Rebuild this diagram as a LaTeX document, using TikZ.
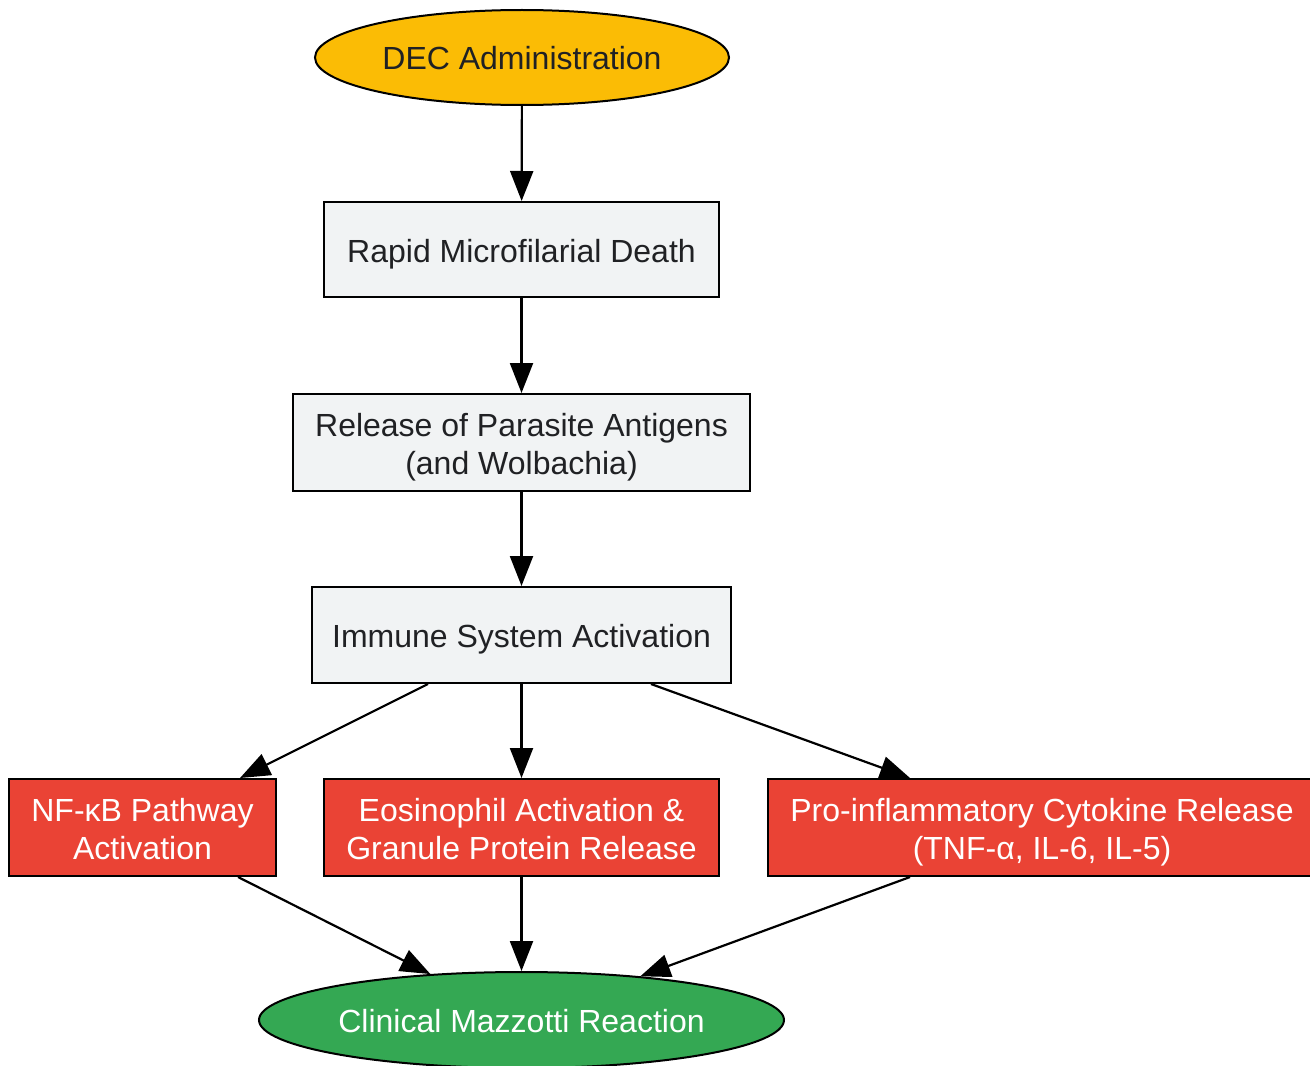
\documentclass[tikz,border=0pt]{standalone}
\usepackage{fontspec}
\setmainfont{Liberation Sans}
\usetikzlibrary{shapes.geometric,arrows.meta,calc}
\definecolor{cyel}{HTML}{FBBC05}
\definecolor{cgray}{HTML}{F1F3F4}
\definecolor{cred}{HTML}{EA4335}
\definecolor{cgreen}{HTML}{34A853}
\definecolor{ctext}{HTML}{202124}
\begin{document}
\begin{tikzpicture}[x=0.5pt,y=-0.5pt,
  base/.style={draw=black,line width=1pt,inner sep=0pt,align=center,font=\fontsize{16}{19}\selectfont,text height=12.5pt,text depth=0pt},
  two/.style={text height=31.5pt,text depth=0pt},
  graybox/.style={base,rectangle,fill=cgray,text=ctext},
  redbox/.style={base,rectangle,fill=cred,text=white},
  oval/.style={base,ellipse},
  conn/.style={line width=1.1pt,-{Triangle[length=15pt,width=11.5pt]}}]
\useasboundingbox (0,0) rectangle (1310,1065);
\node[oval,fill=cyel,text=ctext,minimum width=207pt,minimum height=47.5pt] (dec) at (522,57.5) {DEC Administration};
\node[graybox,minimum width=197.5pt,minimum height=47.5pt] (rap) at (521.5,249.5) {Rapid Microfilarial Death};
\node[graybox,two,minimum width=228.5pt,minimum height=48.5pt] (rel) at (521.5,442.5) {Release of Parasite Antigens\\(and Wolbachia)};
\node[graybox,minimum width=209.5pt,minimum height=48pt] (imm) at (521.5,635) {Immune System Activation};
\node[redbox,two,minimum width=133.5pt,minimum height=48.5pt] (nfk) at (142.5,827.5) {NF-κB Pathway\\Activation};
\node[redbox,two,minimum width=197.5pt,minimum height=48.5pt] (eos) at (521.5,827.5) {Eosinophil Activation \&\\Granule Protein Release};
\node[redbox,two,minimum width=274pt,minimum height=48.5pt] (pro) at (1042,827.5) {Pro-inflammatory Cytokine Release\\(TNF-α, IL-6, IL-5)};
\node[oval,fill=cgreen,text=white,minimum width=262.5pt,minimum height=48pt] (cli) at (521.5,1020) {Clinical Mazzotti Reaction};
\draw[conn] (dec) -- (rap);
\draw[conn] (rap) -- (rel);
\draw[conn] (rel) -- (imm);
\draw[conn] ($(imm.south)+(-93.5,0)$) -- ($(nfk.north)+(97.5,0)$);
\draw[conn] (imm) -- (eos);
\draw[conn] ($(imm.south)+(129.5,0)$) -- ($(pro.north)+(-132,0)$);
\draw[conn] ($(nfk.south)+(95.5,0)$) -- (cli);
\draw[conn] (eos) -- (cli);
\draw[conn] ($(pro.south)+(-132,0)$) -- (cli);
\end{tikzpicture}
\end{document}
